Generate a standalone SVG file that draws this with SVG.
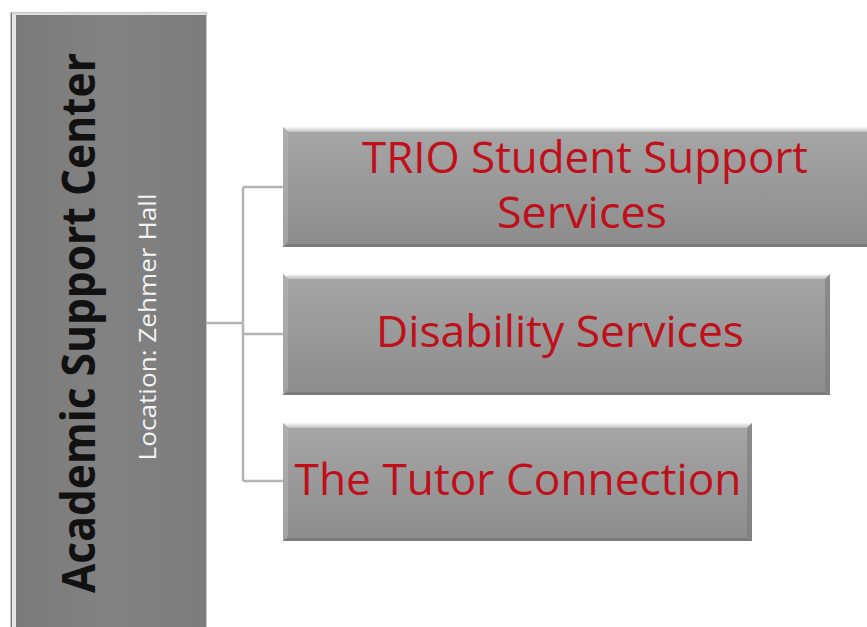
<svg xmlns="http://www.w3.org/2000/svg" width="867" height="627" viewBox="0 0 867 627">
  <defs>
    <linearGradient id="boxFill" x1="0" y1="0" x2="0" y2="1">
      <stop offset="0" stop-color="#a6a6a6"/>
      <stop offset="0.5" stop-color="#999999"/>
      <stop offset="1" stop-color="#8c8c8c"/>
    </linearGradient>
    <linearGradient id="topHi" x1="0" y1="0" x2="0" y2="1">
      <stop offset="0" stop-color="#ffffff" stop-opacity="0.95"/>
      <stop offset="1" stop-color="#ffffff" stop-opacity="0.3"/>
    </linearGradient>
    <linearGradient id="leftFill" x1="0" y1="0" x2="1" y2="0">
      <stop offset="0" stop-color="#7a7a7a"/>
      <stop offset="0.5" stop-color="#828282"/>
      <stop offset="1" stop-color="#7c7c7c"/>
    </linearGradient>
  </defs>
  <style>
    .box { fill: url(#boxFill); }
    .bevTop { fill: url(#topHi); }
    .bevLeft { fill: #b4b4b4; opacity: 0.55; }
    .bevRight { fill: #7a7a7a; opacity: 0.6; }
    .bevBot { fill: #6e6e6e; opacity: 0.55; }
    .lbl { font-family: "Open Sans", "Noto Sans", "Liberation Sans", sans-serif; font-size: 44px; fill: #bf0f1a; text-anchor: middle; }
    .conn { fill: none; stroke: #b3b3b3; stroke-width: 2.5; }
  </style>
  <rect width="867" height="627" fill="#ffffff"/>

  <g id="academic-support-center">
    <rect x="10" y="12" width="197" height="620" fill="#c4c4c4"/>
    <rect x="11" y="13" width="195" height="620" fill="url(#leftFill)"/>
    <rect x="12" y="13" width="4" height="620" fill="#e6e6e6"/>
    <rect x="12" y="13" width="194" height="2" fill="#dcdcdc"/>
    <text transform="translate(95,323) rotate(-90)" x="0" y="0" text-anchor="middle" textLength="540" lengthAdjust="spacingAndGlyphs" font-family="'Open Sans', 'Noto Sans', 'Liberation Sans', sans-serif" font-size="46" font-weight="bold" fill="#111111">Academic Support Center</text>
    <text transform="translate(156,327) rotate(-90)" x="0" y="0" text-anchor="middle" textLength="267" lengthAdjust="spacingAndGlyphs" font-family="'Open Sans', 'Noto Sans', 'Liberation Sans', sans-serif" font-size="23" fill="#f4f4f4">Location: Zehmer Hall</text>
  </g>

  <g id="connectors">
    <path class="conn" d="M206,323 H243"/>
    <path class="conn" d="M243,187 V481"/>
    <path class="conn" d="M243,187 H283"/>
    <path class="conn" d="M243,334 H283"/>
    <path class="conn" d="M243,481 H283"/>
  </g>

  <g id="trio">
    <rect class="box" x="283" y="127" width="600" height="120"/>
    <polygon class="bevTop" points="283,127 883,127 883,132 288,132"/>
    <polygon class="bevLeft" points="283,127 288,132 288,242 283,247"/>
    <polygon class="bevBot" points="283,247 288,244 883,244 883,247"/>
    <text class="lbl" x="585" y="173" textLength="446" lengthAdjust="spacingAndGlyphs">TRIO Student Support</text>
    <text class="lbl" x="582" y="228" textLength="170" lengthAdjust="spacingAndGlyphs">Services</text>
  </g>

  <g id="disability">
    <rect class="box" x="283" y="274" width="547" height="121"/>
    <polygon class="bevTop" points="283,274 830,274 825,279 288,279"/>
    <polygon class="bevLeft" points="283,274 288,279 288,390 283,395"/>
    <polygon class="bevRight" points="830,274 830,395 825,390 825,279"/>
    <polygon class="bevBot" points="283,395 288,392 825,392 830,395"/>
    <text class="lbl" x="560" y="347" textLength="368" lengthAdjust="spacingAndGlyphs">Disability Services</text>
  </g>

  <g id="tutor">
    <rect class="box" x="283" y="423" width="469" height="118"/>
    <polygon class="bevTop" points="283,423 752,423 747,428 288,428"/>
    <polygon class="bevLeft" points="283,423 288,428 288,536 283,541"/>
    <polygon class="bevRight" points="752,423 752,541 747,536 747,428"/>
    <polygon class="bevBot" points="283,541 288,538 747,538 752,541"/>
    <text class="lbl" x="518" y="495" textLength="447" lengthAdjust="spacingAndGlyphs">The Tutor Connection</text>
  </g>
</svg>
